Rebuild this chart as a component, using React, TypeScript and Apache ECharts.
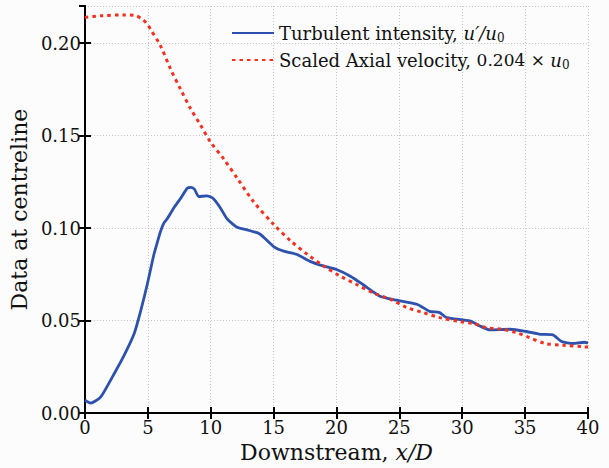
import React, { useEffect, useRef } from "react";
import * as echarts from "echarts";

const xTicks = [0, 5, 10, 15, 20, 25, 30, 35, 40];
const yTicks = [0.0, 0.05, 0.1, 0.15, 0.2];

const seriesNames = ["Turbulent intensity, u′/u0", "Scaled Axial velocity, 0.204 × u0"];

const turbX = [0, 0.45, 1.24, 2.3, 3.1, 3.9, 4.42, 4.95, 5.48, 5.74, 6.0, 6.27, 6.54, 7.07, 7.6, 8.13, 8.4, 8.7, 9.05, 9.7, 10.2, 10.76, 11.3, 12.1, 12.9, 13.9, 15.0, 15.8, 16.86, 17.9, 19.0, 20.0, 21.1, 22.1, 23.5, 24.8, 26.4, 27.4, 28.2, 28.76, 30.6, 31.4, 32.2, 33.8, 35.1, 36.2, 37.2, 37.9, 38.8, 39.7, 40];
const turbY = [0.007, 0.0054, 0.0086, 0.021, 0.031, 0.0427, 0.055, 0.0695, 0.0857, 0.092, 0.098, 0.1027, 0.105, 0.111, 0.116, 0.1215, 0.122, 0.121, 0.117, 0.1174, 0.116, 0.111, 0.105, 0.1004, 0.099, 0.0968, 0.09, 0.0875, 0.0857, 0.082, 0.0794, 0.0776, 0.074, 0.0695, 0.063, 0.061, 0.0588, 0.055, 0.0543, 0.0516, 0.0498, 0.0471, 0.045, 0.0453, 0.0441, 0.0426, 0.0423, 0.0387, 0.0376, 0.0383, 0.038];

const axialX = [0, 1.24, 3.1, 3.9, 4.55, 5.0, 5.2, 6.0, 6.8, 7.6, 8.4, 9.2, 9.97, 11.0, 12.1, 13.4, 15.0, 16.4, 17.7, 19.0, 20.3, 21.6, 22.9, 24.3, 25.6, 26.9, 28.2, 29.8, 30.9, 31.9, 33.2, 34.3, 35.3, 36.6, 38.0, 39.7, 40];
const axialY = [0.2138, 0.2147, 0.2152, 0.215, 0.2129, 0.2098, 0.2075, 0.1986, 0.186, 0.175, 0.1645, 0.1555, 0.1466, 0.1376, 0.127, 0.1143, 0.102, 0.0928, 0.0857, 0.0794, 0.074, 0.0695, 0.065, 0.0615, 0.057, 0.0543, 0.0516, 0.0495, 0.0484, 0.0462, 0.0453, 0.0435, 0.0409, 0.0376, 0.0367, 0.0358, 0.0357];

const FONT = "DejaVu Serif";

export default function App() {
  const ref = useRef<HTMLDivElement>(null);
  useEffect(() => {
    if (!ref.current) return;
    const chart = echarts.init(ref.current, null, { renderer: "svg" });
    const blue = "#2c52ad";
    const red = "#f5301f";
    const tickCommon = { show: true, inside: true, length: 6, lineStyle: { color: "#000", width: 2 } };
    const xCommon = {
      type: "value" as const,
      min: xTicks[0],
      max: xTicks[xTicks.length - 1],
      interval: 5,
    };
    const yCommon = {
      type: "value" as const,
      min: 0,
      max: 0.22,
      interval: 0.05,
    };
    const legendRich = {
      t: { fontFamily: FONT, fontSize: 18, color: "#111", lineHeight: 22 },
      n: { fontFamily: FONT, fontSize: 17, color: "#111", lineHeight: 22 },
      m: { fontFamily: FONT, fontSize: 18, fontStyle: "italic", color: "#111", lineHeight: 22 },
      s: { fontFamily: FONT, fontSize: 12, color: "#111", lineHeight: 14, verticalAlign: "bottom" },
    };
    chart.setOption({
      animation: false,
      backgroundColor: "#fcfcfc",
      grid: { left: 84, right: 21, top: 6, bottom: 52, show: false },
      legend: {
        data: seriesNames,
        left: 226,
        top: 19,
        orient: "vertical",
        itemWidth: 42,
        itemHeight: 14,
        itemGap: 7,
        itemStyle: { opacity: 0 },
        textStyle: { fontFamily: FONT, fontSize: 18, color: "#111", rich: legendRich },
        formatter: (name: string) => {
          if (name === seriesNames[0]) return "{t|Turbulent intensity, }{m|u′/u}{s|0}";
          return "{t|Scaled Axial velocity, }{n|0.204 × }{m|u}{s|0}";
        },
      },
      xAxis: [
        {
          ...xCommon,
          position: "bottom",
          name: "{t|Downstream, }{m|x/D}",
          nameLocation: "middle",
          nameGap: 23,
          nameTextStyle: {
            fontFamily: FONT,
            fontSize: 22,
            color: "#111",
            rich: {
              t: { fontFamily: FONT, fontSize: 22, color: "#111" },
              m: { fontFamily: FONT, fontSize: 22, fontStyle: "italic", color: "#111" },
            },
          },
          axisLine: { show: true, lineStyle: { color: "#000", width: 2 } },
          axisTick: tickCommon,
          axisLabel: { fontFamily: FONT, fontSize: 18, color: "#111", margin: 5 },
          splitLine: { show: true, lineStyle: { color: "#c4c4c4", type: [1, 2], width: 1 } },
        },
        {
          ...xCommon,
          position: "top",
          axisLine: { show: true, lineStyle: { color: "#000", width: 2 } },
          axisTick: tickCommon,
          axisLabel: { show: false },
          splitLine: { show: false },
        },
      ],
      yAxis: [
        {
          ...yCommon,
          position: "left",
          name: "Data at centreline",
          nameLocation: "middle",
          nameGap: 42,
          nameTextStyle: { fontFamily: FONT, fontSize: 22, color: "#111" },
          axisLine: { show: true, lineStyle: { color: "#000", width: 2 } },
          axisTick: tickCommon,
          axisLabel: {
            fontFamily: FONT,
            fontSize: 18,
            color: "#111",
            margin: 4,
            showMaxLabel: false,
            formatter: (v: number) => (yTicks.some((t) => Math.abs(t - v) < 1e-9) ? v.toFixed(2) : ""),
          },
          splitLine: { show: true, lineStyle: { color: "#c4c4c4", type: [1, 2], width: 1 } },
        },
        {
          ...yCommon,
          position: "right",
          axisLine: { show: true, lineStyle: { color: "#000", width: 2 } },
          axisTick: tickCommon,
          axisLabel: { show: false },
          splitLine: { show: false },
        },
      ],
      series: [
        {
          name: seriesNames[0],
          type: "line",
          xAxisIndex: 0,
          yAxisIndex: 0,
          data: turbX.map((x, i) => [x, turbY[i]]),
          showSymbol: false,
          symbol: "none",
          smooth: 0.2,
          lineStyle: { color: blue, width: 2.8 },
          itemStyle: { color: blue },
        },
        {
          name: seriesNames[1],
          type: "line",
          xAxisIndex: 0,
          yAxisIndex: 0,
          data: axialX.map((x, i) => [x, axialY[i]]),
          showSymbol: false,
          symbol: "none",
          smooth: 0.3,
          lineStyle: { color: red, width: 3, type: [3.5, 4] },
          itemStyle: { color: red },
        },
      ],
    });
    return () => chart.dispose();
  }, []);
  return <div ref={ref} style={{ position: "absolute", left: 0, top: 0, width: 609, height: 468 }} />;
}
